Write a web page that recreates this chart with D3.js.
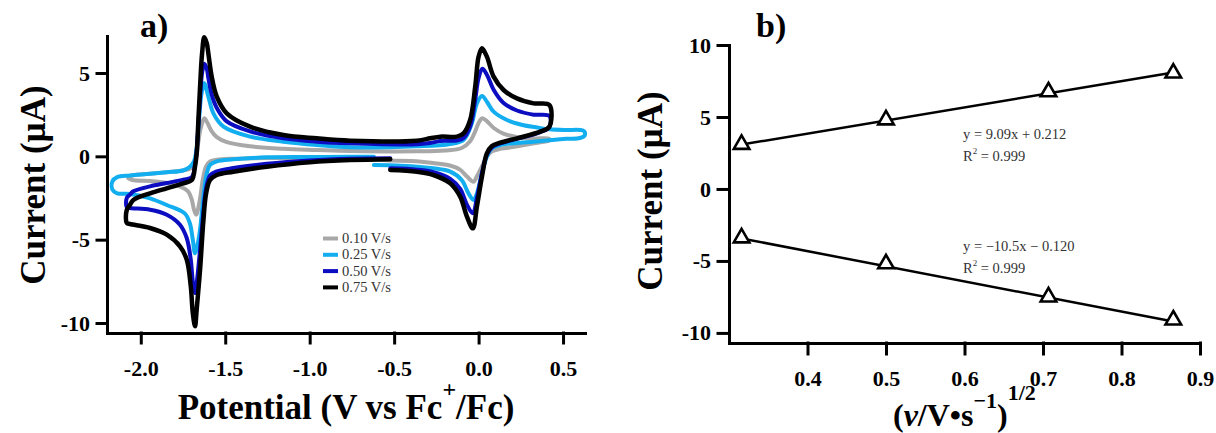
<!DOCTYPE html>
<html lang="en">
<head>
<meta charset="UTF-8">
<title>Cyclic voltammetry scan rate study</title>
<script src="https://d3js.org/d3.v7.min.js"></script>
<style>
  html, body { margin: 0; padding: 0; background: #fff; }
  svg { display: block; font-family: "Liberation Serif", "Times New Roman", serif; }
  .axis .domain, .axis line { stroke: #000; stroke-width: 3; stroke-linecap: square; }
  .title { font-size: 35px; font-weight: bold; fill: #000; }
  .note { font-size: 14.5px; fill: #333; }
</style>
</head>
<body>
<svg id="chart" width="1216" height="433"></svg>
<script>
// ---- panel a: cyclic voltammograms, [E (V vs Fc+/Fc), I (uA)]
const cv010 = [[-0.523,-0.25],[-0.76,-0.15],[-1.0,-0.1],[-1.254,-0.1],[-1.452,-0.14],[-1.55,-0.2],[-1.59,-0.3],
  [-1.613,-0.6],[-1.633,-1.4],[-1.65,-2.6],[-1.672,-3.5],[-1.685,-3.2],[-1.698,-2.6],[-1.72,-2.1],[-1.77,-1.8],
  [-1.846,-1.6],[-1.945,-1.48],[-2.05,-1.42],[-2.075,-1.3],[-2.05,-1.15],[-1.945,-1.05],[-1.847,-0.95],[-1.75,-0.85],
  [-1.7,-0.7],[-1.675,-0.2],[-1.66,0.8],[-1.645,1.7],[-1.624,2.28],[-1.605,2.0],[-1.58,1.5],[-1.55,1.15],[-1.49,0.85],
  [-1.353,0.6],[-1.156,0.45],[-0.958,0.38],[-0.76,0.32],[-0.365,0.3],[-0.2,0.35],[-0.1,0.5],[-0.05,0.9],[-0.02,1.5],
  [0.0,2.0],[0.022,2.28],[0.05,2.1],[0.09,1.7],[0.15,1.35],[0.23,1.15],[0.32,1.07],[0.419,1.05],[0.419,0.95],
  [0.365,0.85],[0.23,0.6],[0.128,0.45],[0.079,0.3],[0.05,0.0],[0.02,-0.6],[-0.01,-1.2],[-0.03,-1.52],[-0.07,-1.2],
  [-0.11,-0.8],[-0.17,-0.55],[-0.27,-0.4],[-0.37,-0.3],[-0.523,-0.25]];

const cv025 = [[-0.62,-0.03],[-0.76,-0.02],[-1.0,-0.04],[-1.254,-0.06],[-1.452,-0.18],[-1.55,-0.3],[-1.59,-0.52],
  [-1.613,-1.22],[-1.635,-3.02],[-1.655,-4.82],[-1.679,-5.82],[-1.692,-5.0],[-1.71,-4.0],[-1.74,-3.42],[-1.846,-2.92],
  [-1.945,-2.52],[-2.064,-2.26],[-2.14,-2.22],[-2.168,-2.0],[-2.168,-1.5],[-2.14,-1.25],[-2.064,-1.15],[-1.945,-1.05],
  [-1.847,-0.95],[-1.75,-0.85],[-1.709,-0.62],[-1.685,-0.3],[-1.669,0.5],[-1.655,2.2],[-1.64,3.8],[-1.624,4.38],
  [-1.6,3.58],[-1.57,2.58],[-1.51,1.78],[-1.353,1.18],[-1.156,0.88],[-0.958,0.68],[-0.76,0.54],[-0.365,0.6],
  [-0.168,0.74],[-0.089,0.98],[-0.04,1.98],[-0.01,3.18],[0.02,3.62],[0.049,3.28],[0.089,2.68],[0.168,2.18],
  [0.26,1.88],[0.34,1.74],[0.42,1.62],[0.52,1.58],[0.6,1.58],[0.625,1.5],[0.628,1.25],[0.6,1.1],[0.52,1.05],
  [0.326,0.88],[0.128,0.68],[0.079,0.48],[0.049,-0.02],[0.02,-1.02],[-0.01,-2.22],[-0.03,-2.62],[-0.06,-2.22],
  [-0.1,-1.42],[-0.168,-0.92],[-0.267,-0.72],[-0.46,-0.56],[-0.62,-0.52]];

const cv050 = [[-0.523,-0.12],[-0.76,-0.15],[-1.0,-0.25],[-1.254,-0.45],[-1.452,-0.7],[-1.55,-0.9],[-1.59,-1.15],
  [-1.613,-1.9],[-1.629,-3.3],[-1.649,-5.6],[-1.669,-7.6],[-1.679,-8.2],[-1.692,-7.5],[-1.704,-6.2],[-1.728,-4.9],
  [-1.768,-4.1],[-1.846,-3.5],[-1.945,-3.2],[-2.064,-3.1],[-2.083,-3.05],[-2.083,-2.5],[-2.064,-2.3],[-2.044,-2.1],
  [-1.945,-1.8],[-1.847,-1.6],[-1.748,-1.4],[-1.698,-1.25],[-1.679,-0.5],[-1.669,0.3],[-1.659,1.9],[-1.649,3.5],
  [-1.637,5.0],[-1.624,5.55],[-1.609,5.25],[-1.6,4.7],[-1.58,3.7],[-1.55,2.9],[-1.491,2.1],[-1.353,1.5],[-1.156,1.08],
  [-0.958,0.88],[-0.76,0.78],[-0.365,0.72],[-0.287,0.8],[-0.227,0.92],[-0.128,0.95],[-0.089,1.1],[-0.05,1.8],
  [-0.02,3.4],[0.0,4.7],[0.022,5.25],[0.049,4.9],[0.089,4.0],[0.148,3.2],[0.227,2.75],[0.326,2.5],[0.419,2.42],
  [0.419,1.75],[0.365,1.45],[0.227,1.05],[0.128,0.78],[0.079,0.55],[0.049,0.1],[0.02,-1.0],[-0.01,-2.5],
  [-0.034,-3.42],[-0.069,-2.9],[-0.109,-1.95],[-0.168,-1.35],[-0.267,-0.95],[-0.365,-0.8],[-0.523,-0.72]];

const cv075 = [[-0.523,-0.17],[-0.76,-0.22],[-1.0,-0.35],[-1.254,-0.62],[-1.452,-0.92],[-1.55,-1.12],[-1.59,-1.42],
  [-1.613,-2.22],[-1.629,-3.82],[-1.649,-6.8],[-1.669,-9.2],[-1.679,-10.2],[-1.692,-9.4],[-1.704,-7.8],[-1.728,-6.2],
  [-1.768,-5.4],[-1.846,-4.7],[-1.945,-4.3],[-2.064,-4.06],[-2.083,-4.0],[-2.083,-3.22],[-2.064,-2.92],[-2.044,-2.62],
  [-1.945,-2.22],[-1.847,-1.92],[-1.748,-1.62],[-1.698,-1.42],[-1.679,-0.62],[-1.669,0.18],[-1.659,2.18],[-1.649,4.18],
  [-1.637,6.18],[-1.624,7.15],[-1.609,6.78],[-1.6,6.18],[-1.58,4.78],[-1.55,3.58],[-1.491,2.58],[-1.353,1.78],
  [-1.156,1.28],[-0.958,1.08],[-0.76,0.94],[-0.365,0.94],[-0.287,1.08],[-0.227,1.18],[-0.128,1.18],[-0.089,1.38],
  [-0.05,2.18],[-0.02,4.18],[0.0,5.98],[0.02,6.48],[0.049,5.98],[0.089,4.78],[0.148,3.98],[0.227,3.48],[0.326,3.18],
  [0.419,3.08],[0.419,1.78],[0.365,1.48],[0.227,1.08],[0.128,0.82],[0.079,0.62],[0.049,0.18],[0.02,-1.22],
  [-0.01,-3.02],[-0.034,-4.32],[-0.069,-3.62],[-0.109,-2.42],[-0.168,-1.62],[-0.267,-1.12],[-0.365,-0.92],[-0.523,-0.82]];

const scanLabels = ['0.10 V/s', '0.25 V/s', '0.50 V/s', '0.75 V/s'];
const scanColors = ['#a8a8a8', '#12aef0', '#0c0cc0', '#000000'];
const potentialTicks = [-2.0, -1.5, -1.0, -0.5, 0.0, 0.5];
const currentTicksA = [-10, -5, 0, 5];

// ---- panel b: peak current vs square root of scan rate
const sqrtRate = [0.316, 0.5, 0.707, 0.866];
const anodicPeak = [3.1, 4.8, 6.75, 8.05];
const cathodicPeak = [-3.4, -5.2, -7.5, -9.1];
const fitSlope = [9.09, -10.5];
const fitIntercept = [0.212, -0.120];
const fitText = ['y = 9.09x + 0.212', 'y = \u221210.5x \u2212 0.120'];
const rateTicks = [0.4, 0.5, 0.6, 0.7, 0.8, 0.9];
const currentTicksB = [-10, -5, 0, 5, 10];

const svg = d3.select('#chart');

const xa = d3.scaleLinear().domain([-2.2, 0.63]).range([107, 585]);
const ya = d3.scaleLinear().domain([-10.6, 7.22]).range([333, 36]);
const xb = d3.scaleLinear().domain([0.3, 0.9]).range([729, 1200]);
const yb = d3.scaleLinear().domain([-10.7, 10]).range([343, 45]);

// tick labels in bold Times-like serif
const styleTicks = g => g.selectAll('text')
    .style('font-family', '"Liberation Serif", "Times New Roman", serif')
    .style('font-size', '22px')
    .style('font-weight', 'bold')
    .style('fill', '#000');

// axes, panel a
svg.append('g').attr('class', 'axis').attr('transform', 'translate(0,333)')
    .call(d3.axisBottom(xa).tickValues(potentialTicks).tickSize(10).tickSizeOuter(0)
        .tickPadding(17).tickFormat(d => d.toFixed(1)))
    .call(styleTicks);
svg.append('g').attr('class', 'axis').attr('transform', 'translate(107,0)')
    .call(d3.axisLeft(ya).tickValues(currentTicksA).tickSize(10).tickSizeOuter(0)
        .tickPadding(7).tickFormat(d => String(d)))
    .call(styleTicks);

// axes, panel b
svg.append('g').attr('class', 'axis').attr('transform', 'translate(0,343)')
    .call(d3.axisBottom(xb).tickValues(rateTicks).tickSize(11).tickSizeOuter(0)
        .tickPadding(16).tickFormat(d => d.toFixed(1)))
    .call(styleTicks);
svg.append('g').attr('class', 'axis').attr('transform', 'translate(729,0)')
    .call(d3.axisLeft(yb).tickValues(currentTicksB).tickSize(11).tickSizeOuter(0)
        .tickPadding(7).tickFormat(d => String(d)))
    .call(styleTicks);

// voltammograms
const cvLine = d3.line()
    .x(d => xa(d[0]))
    .y(d => ya(d[1]))
    .curve(d3.curveCatmullRom.alpha(0.5));

[cv010, cv025, cv050, cv075].forEach((cv, i) => {
    svg.append('path')
        .attr('d', cvLine(cv))
        .attr('fill', 'none')
        .attr('stroke', scanColors[i])
        .attr('stroke-width', i === 3 ? 4.5 : 4)
        .attr('stroke-linejoin', 'round')
        .attr('stroke-linecap', 'round');
});

// legend
const legend = svg.append('g');
scanLabels.forEach((label, i) => {
    const yy = 238.5 + i * 16.3;
    legend.append('line')
        .attr('x1', 323).attr('x2', 338).attr('y1', yy).attr('y2', yy)
        .attr('stroke', scanColors[i]).attr('stroke-width', 4);
    legend.append('text')
        .attr('class', 'note')
        .attr('x', 342).attr('y', yy + 4.5)
        .text(label);
});

// fits and points, panel b
[anodicPeak, cathodicPeak].forEach((peaks, i) => {
    const x0 = sqrtRate[0], x1 = sqrtRate[sqrtRate.length - 1];
    svg.append('line')
        .attr('x1', xb(x0)).attr('y1', yb(fitSlope[i] * x0 + fitIntercept[i]))
        .attr('x2', xb(x1)).attr('y2', yb(fitSlope[i] * x1 + fitIntercept[i]))
        .attr('stroke', '#000').attr('stroke-width', 2.5);

    svg.selectAll(null)
        .data(peaks)
        .join('path')
        .attr('transform', (d, j) => `translate(${xb(sqrtRate[j])},${yb(d)})`)
        .attr('d', d3.symbol(d3.symbolTriangle, 105)())
        .attr('fill', '#fff')
        .attr('stroke', '#000')
        .attr('stroke-width', 2.6);
});

// fit annotations
const fitY = [139, 251];
fitText.forEach((t, i) => {
    svg.append('text').attr('class', 'note').attr('x', 963).attr('y', fitY[i]).text(t);
    const r = svg.append('text').attr('class', 'note').attr('x', 963).attr('y', fitY[i] + 22);
    r.append('tspan').text('R');
    r.append('tspan').attr('dy', -7).style('font-size', '9px').text('2');
    r.append('tspan').attr('dy', 7).text(' = 0.999');
});

// titles
const xTitleA = svg.append('text').attr('class', 'title')
    .attr('x', 346).attr('y', 419).attr('text-anchor', 'middle');
xTitleA.append('tspan').text('Potential (V vs Fc');
xTitleA.append('tspan').attr('dy', -22).style('font-size', '24px').text('+');
xTitleA.append('tspan').attr('dy', 22).text('/Fc)');

const xTitleB = svg.append('text').attr('class', 'title')
    .attr('x', 893).attr('y', 426).style('font-size', '32px');
xTitleB.append('tspan').text('(');
xTitleB.append('tspan').style('font-style', 'italic').text('\u03bd');
xTitleB.append('tspan').text('/V\u2022s');
xTitleB.append('tspan').attr('dy', -18).style('font-size', '22px').text('\u22121');
xTitleB.append('tspan').attr('dy', 18).text(')');
xTitleB.append('tspan').attr('dy', -26).style('font-size', '22px').text('1/2');

svg.append('text').attr('class', 'title')
    .attr('transform', 'translate(45,185) rotate(-90)')
    .attr('text-anchor', 'middle')
    .text('Current (\u00b5A)');
svg.append('text').attr('class', 'title')
    .attr('transform', 'translate(662,191) rotate(-90)')
    .attr('text-anchor', 'middle')
    .text('Current (\u00b5A)');

svg.append('text').attr('class', 'title').style('font-size', '34px')
    .attr('x', 140).attr('y', 37).text('a)');
svg.append('text').attr('class', 'title').style('font-size', '34px')
    .attr('x', 756).attr('y', 37).text('b)');
</script>
</body>
</html>
